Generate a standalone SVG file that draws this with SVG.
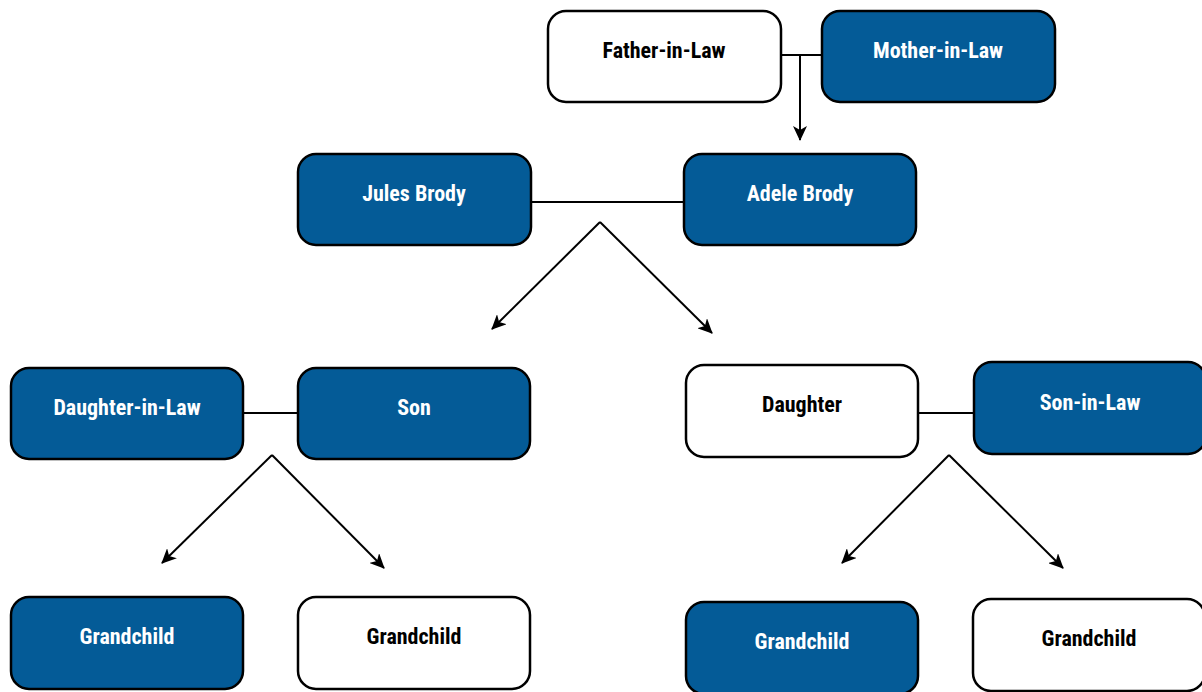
<svg xmlns="http://www.w3.org/2000/svg" width="1202" height="692" viewBox="0 0 1202 692">
<style>
.b{fill:#045b97;stroke:#000;stroke-width:2.5}
.w{fill:#fff;stroke:#000;stroke-width:2.5}
text{font-family:"Liberation Sans Narrow","Roboto Condensed","DejaVu Sans Condensed","Liberation Sans",sans-serif;font-stretch:condensed;font-weight:bold;font-size:22px;text-anchor:middle}
.tb{fill:#fff}
.tw{fill:#000}
.c{fill:none;stroke:#000;stroke-width:2}
</style>
<defs>
<marker id="ah" markerWidth="15" markerHeight="14" refX="14" refY="7" orient="auto" markerUnits="userSpaceOnUse" viewBox="0 0 15 14">
<path d="M0,0 L15,7 L0,14 L4,7 z" fill="#000"/>
</marker>
</defs>
<rect width="1202" height="692" fill="#fff"/>
<g id="connectors">
<line class="c" x1="781" y1="55" x2="822" y2="55"/>
<line class="c" x1="800" y1="55" x2="800" y2="140" marker-end="url(#ah)"/>
<line class="c" x1="531" y1="202" x2="684" y2="202"/>
<line class="c" x1="600" y1="222" x2="492" y2="329" marker-end="url(#ah)"/>
<line class="c" x1="600" y1="222" x2="712" y2="333" marker-end="url(#ah)"/>
<line class="c" x1="243" y1="413" x2="298" y2="413"/>
<line class="c" x1="272" y1="455" x2="162" y2="563" marker-end="url(#ah)"/>
<line class="c" x1="272" y1="455" x2="384" y2="568" marker-end="url(#ah)"/>
<line class="c" x1="918" y1="413" x2="974" y2="413"/>
<line class="c" x1="949" y1="455" x2="842" y2="563" marker-end="url(#ah)"/>
<line class="c" x1="949" y1="455" x2="1063" y2="568" marker-end="url(#ah)"/>
</g>
<g id="father-in-law"><rect class="w" x="548" y="11" width="233" height="91" rx="18"/><text class="tw" x="664" y="58">Father-in-Law</text></g>
<g id="mother-in-law"><rect class="b" x="822" y="11" width="233" height="91" rx="18"/><text class="tb" x="938" y="58">Mother-in-Law</text></g>
<g id="jules-brody"><rect class="b" x="298" y="154" width="233" height="91" rx="18"/><text class="tb" x="414" y="201">Jules Brody</text></g>
<g id="adele-brody"><rect class="b" x="684" y="154" width="232" height="91" rx="18"/><text class="tb" x="800" y="201">Adele Brody</text></g>
<g id="daughter-in-law"><rect class="b" x="11" y="368" width="232" height="91" rx="18"/><text class="tb" x="127" y="415">Daughter-in-Law</text></g>
<g id="son"><rect class="b" x="298" y="368" width="232" height="91" rx="18"/><text class="tb" x="414" y="415">Son</text></g>
<g id="daughter"><rect class="w" x="686" y="365" width="232" height="92" rx="18"/><text class="tw" x="802" y="412">Daughter</text></g>
<g id="son-in-law"><rect class="b" x="974" y="362" width="232" height="92" rx="18"/><text class="tb" x="1090" y="410">Son-in-Law</text></g>
<g id="grandchild-1"><rect class="b" x="11" y="597" width="232" height="92" rx="18"/><text class="tb" x="127" y="644">Grandchild</text></g>
<g id="grandchild-2"><rect class="w" x="298" y="597" width="232" height="92" rx="18"/><text class="tw" x="414" y="644">Grandchild</text></g>
<g id="grandchild-3"><rect class="b" x="686" y="602" width="232" height="92" rx="18"/><text class="tb" x="802" y="649">Grandchild</text></g>
<g id="grandchild-4"><rect class="w" x="973" y="599" width="232" height="92" rx="18"/><text class="tw" x="1089" y="646">Grandchild</text></g>
</svg>
